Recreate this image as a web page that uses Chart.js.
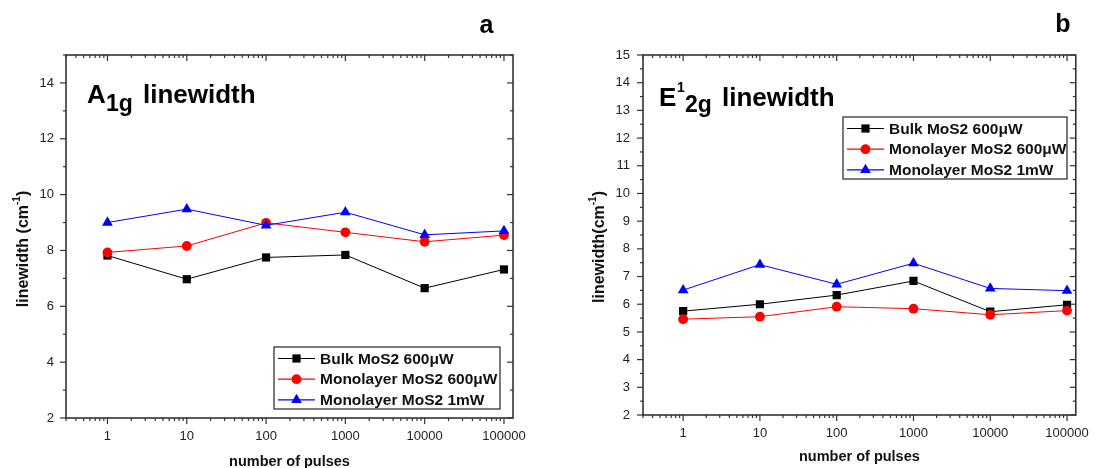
<!DOCTYPE html>
<html>
<head>
<meta charset="utf-8">
<script src="https://cdn.jsdelivr.net/npm/chart.js@4.4.0/dist/chart.umd.min.js"></script>
<style>
  html, body { margin: 0; padding: 0; background: #fff; }
  #wrap { position: relative; width: 1100px; height: 468px; }
  .panel { position: absolute; top: 0; width: 550px; height: 468px; }
</style>
</head>
<body>
<div id="wrap">
  <div class="panel" style="left:0"><canvas id="chartA"></canvas></div>
  <div class="panel" style="left:550px"><canvas id="chartB"></canvas></div>
</div>
<script>
// number of pulses (x) shared by both panels
var pulses = [1, 10, 100, 1000, 10000, 100000];
var xTickValues = [1, 10, 100, 1000, 10000, 100000];
var seriesNames = ['Bulk MoS2 600\u03bcW', 'Monolayer MoS2 600\u03bcW', 'Monolayer MoS2 1mW'];

// panel a - A1g linewidth (cm-1)
var a1gBulk600 = [7.82, 6.97, 7.75, 7.84, 6.65, 7.32];
var a1gMono600 = [7.93, 8.16, 8.99, 8.65, 8.31, 8.55];
var a1gMono1mW = [9.00, 9.48, 8.90, 9.37, 8.56, 8.70];
var yTicksA = [2, 4, 6, 8, 10, 12, 14];
var yMinorA = [3, 5, 7, 9, 11, 13, 15];

// panel b - E12g linewidth (cm-1)
var e2gBulk600 = [5.75, 6.00, 6.33, 6.84, 5.73, 5.98];
var e2gMono600 = [5.46, 5.55, 5.91, 5.84, 5.62, 5.77];
var e2gMono1mW = [6.51, 7.43, 6.72, 7.48, 6.57, 6.49];
var yTicksB = [2, 3, 4, 5, 6, 7, 8, 9, 10, 11, 12, 13, 14, 15];
var yMinorB = [2.5, 3.5, 4.5, 5.5, 6.5, 7.5, 8.5, 9.5, 10.5, 11.5, 12.5, 13.5, 14.5];

var FONT = "Arial, 'Liberation Sans', sans-serif";
var AXIS_COLOR = '#333';

function toPoints(ys) {
    return pulses.map(function (p, i) { return { x: p, y: ys[i] }; });
}

// minor ticks of the log axis: 2..9 in every decade
function logMinor(min, max) {
    var out = [];
    for (var e = -1; e <= 5; e++) {
        for (var k = 2; k <= 9; k++) {
            var v = k * Math.pow(10, e);
            if (v >= min && v <= max) out.push(v);
        }
    }
    return out;
}

function line(ctx, x1, y1, x2, y2) {
    ctx.beginPath();
    ctx.moveTo(x1, y1);
    ctx.lineTo(x2, y2);
    ctx.stroke();
}

// Origin-like frame, ticks, legend box and texts
var originPlugin = {
    id: 'origin',
    afterDraw: function (chart, args, o) {
        var ctx = chart.ctx, a = chart.chartArea;
        var xs = chart.scales.x, ys = chart.scales.y;
        ctx.save();

        // frame
        ctx.strokeStyle = AXIS_COLOR;
        ctx.lineWidth = 1.6;
        ctx.strokeRect(a.left, a.top, a.right - a.left, a.bottom - a.top);

        // x ticks: bottom outward, top inward
        ctx.lineWidth = 1.2;
        xTickValues.forEach(function (v) {
            var px = xs.getPixelForValue(v);
            line(ctx, px, a.bottom, px, a.bottom + 6);
            line(ctx, px, a.top, px, a.top + 6);
        });
        logMinor(xs.min, xs.max).forEach(function (v) {
            var px = xs.getPixelForValue(v);
            line(ctx, px, a.bottom, px, a.bottom + 3);
            line(ctx, px, a.top, px, a.top + 3);
        });
        // y ticks: left outward, right inward
        o.yTicks.forEach(function (v) {
            var py = ys.getPixelForValue(v);
            line(ctx, a.left - 6, py, a.left, py);
            line(ctx, a.right - 6, py, a.right, py);
        });
        o.yMinor.forEach(function (v) {
            var py = ys.getPixelForValue(v);
            line(ctx, a.left - 3, py, a.left, py);
            line(ctx, a.right - 3, py, a.right, py);
        });

        // legend box
        var L = o.legend;
        ctx.fillStyle = '#fff';
        ctx.fillRect(L.x, L.y, L.w, L.h);
        ctx.lineWidth = 1.3;
        ctx.strokeStyle = AXIS_COLOR;
        ctx.strokeRect(L.x, L.y, L.w, L.h);
        chart.data.datasets.forEach(function (ds, i) {
            var ry = L.y + 11.5 + i * 20.7;
            ctx.strokeStyle = ds.borderColor;
            ctx.lineWidth = 1.2;
            line(ctx, L.x + 4, ry, L.x + 41, ry);
            ctx.fillStyle = ds.backgroundColor;
            Chart.helpers.drawPoint(ctx, {
                pointStyle: ds.pointStyle, radius: ds.pointRadius, rotation: 0, borderWidth: 0
            }, L.x + 22.5, ry);
            ctx.fillStyle = '#111';
            ctx.font = 'bold 15.5px ' + FONT;
            ctx.textAlign = 'left';
            ctx.textBaseline = 'middle';
            ctx.fillText(ds.label, L.x + 46, ry + 1);
        });

        // panel title pieces (sub/superscripts)
        ctx.fillStyle = '#000';
        ctx.textBaseline = 'alphabetic';
        ctx.textAlign = 'left';
        o.title.forEach(function (p) {
            ctx.font = 'bold ' + p.size + 'px ' + FONT;
            ctx.fillText(p.text, p.x, p.y);
        });

        // panel letter
        ctx.font = 'bold 25px ' + FONT;
        ctx.textAlign = 'center';
        ctx.fillText(o.letter.text, o.letter.x, o.letter.y);

        // x axis title
        ctx.fillStyle = '#111';
        ctx.font = 'bold 14.5px ' + FONT;
        ctx.textBaseline = 'middle';
        ctx.fillText('number of pulses', (a.left + a.right) / 2, o.xTitleY);

        // y axis title, rotated, with cm^-1
        ctx.translate(o.yTitle.x, o.yTitle.y);
        ctx.rotate(-Math.PI / 2);
        ctx.font = 'bold 16px ' + FONT;
        var w1 = ctx.measureText(o.yTitle.text).width;
        ctx.font = 'bold 10px ' + FONT;
        var w2 = ctx.measureText('-1').width;
        ctx.font = 'bold 16px ' + FONT;
        var w3 = ctx.measureText(')').width;
        var x0 = -(w1 + w2 + w3) / 2;
        ctx.textAlign = 'left';
        ctx.textBaseline = 'middle';
        ctx.fillText(o.yTitle.text, x0, 0);
        ctx.font = 'bold 10px ' + FONT;
        ctx.fillText('-1', x0 + w1, -7);
        ctx.font = 'bold 16px ' + FONT;
        ctx.fillText(')', x0 + w1 + w2, 0);

        ctx.restore();
    }
};

function makeChart(id, c) {
    return new Chart(document.getElementById(id), {
        type: 'line',
        data: {
            datasets: [{
                label: seriesNames[0],
                data: toPoints(c.bulk),
                borderColor: '#000', backgroundColor: '#000',
                pointStyle: 'rect', pointRadius: 5.8, order: 2
            }, {
                label: seriesNames[1],
                data: toPoints(c.mono600),
                borderColor: '#ff0000', backgroundColor: '#ff0000',
                pointStyle: 'circle', pointRadius: 4.9, order: 1
            }, {
                label: seriesNames[2],
                data: toPoints(c.mono1mW),
                borderColor: '#0000ff', backgroundColor: '#0000ff',
                pointStyle: 'triangle', pointRadius: 6.2, order: 0
            }]
        },
        options: {
            responsive: true,
            maintainAspectRatio: false,
            animation: false,
            elements: {
                line: { borderWidth: 1, tension: 0 },
                point: { borderWidth: 0, hoverRadius: 5 }
            },
            layout: { padding: c.padding },
            plugins: {
                legend: { display: false },
                tooltip: { enabled: false },
                origin: c.deco
            },
            scales: {
                x: {
                    type: 'logarithmic',
                    min: 0.3,
                    max: 130000,
                    grid: { display: false, drawTicks: false, tickLength: 0 },
                    border: { display: false },
                    afterBuildTicks: function (scale) {
                        scale.ticks = xTickValues.map(function (v) { return { value: v }; });
                    },
                    afterFit: function (scale) { scale.height = c.xAxisHeight; },
                    ticks: {
                        autoSkip: false, maxRotation: 0, padding: 11,
                        color: '#222', font: { family: FONT, size: 13 },
                        callback: function (v) { return String(v); }
                    }
                },
                y: {
                    type: 'linear',
                    min: 2,
                    max: 15,
                    grid: { display: false, drawTicks: false, tickLength: 0 },
                    border: { display: false },
                    afterBuildTicks: function (scale) {
                        scale.ticks = c.yTicks.map(function (v) { return { value: v }; });
                    },
                    afterFit: function (scale) { scale.width = c.yAxisWidth; },
                    ticks: {
                        padding: c.yLabelPad,
                        color: '#222', font: { family: FONT, size: 13 }
                    }
                }
            }
        },
        plugins: [originPlugin]
    });
}

makeChart('chartA', {
    bulk: a1gBulk600, mono600: a1gMono600, mono1mW: a1gMono1mW,
    yTicks: yTicksA,
    padding: { left: 0, right: 37, top: 55, bottom: 0 },
    yAxisWidth: 66, xAxisHeight: 50, yLabelPad: 12,
    deco: {
        yTicks: yTicksA, yMinor: yMinorA,
        legend: { x: 274, y: 347, w: 226, h: 62 },
        title: [
            { text: 'A', size: 26, x: 87, y: 103 },
            { text: '1g', size: 23, x: 106, y: 111 },
            { text: 'linewidth', size: 26, x: 143, y: 103 }
        ],
        letter: { text: 'a', x: 486.5, y: 33 },
        xTitleY: 462,
        yTitle: { text: 'linewidth (cm', x: 24, y: 249 }
    }
});

makeChart('chartB', {
    bulk: e2gBulk600, mono600: e2gMono600, mono1mW: e2gMono1mW,
    yTicks: yTicksB,
    padding: { left: 0, right: 14, top: 55, bottom: 0 },
    yAxisWidth: 93, xAxisHeight: 53, yLabelPad: 13,
    deco: {
        yTicks: yTicksB, yMinor: yMinorB,
        legend: { x: 293, y: 117, w: 224, h: 62 },
        title: [
            { text: 'E', size: 26, x: 109, y: 106 },
            { text: '1', size: 14, x: 127, y: 92 },
            { text: '2g', size: 23, x: 135, y: 112 },
            { text: 'linewidth', size: 26, x: 172, y: 106 }
        ],
        letter: { text: 'b', x: 513, y: 32 },
        xTitleY: 457,
        yTitle: { text: 'linewidth(cm', x: 50, y: 247 }
    }
});
</script>
</body>
</html>
